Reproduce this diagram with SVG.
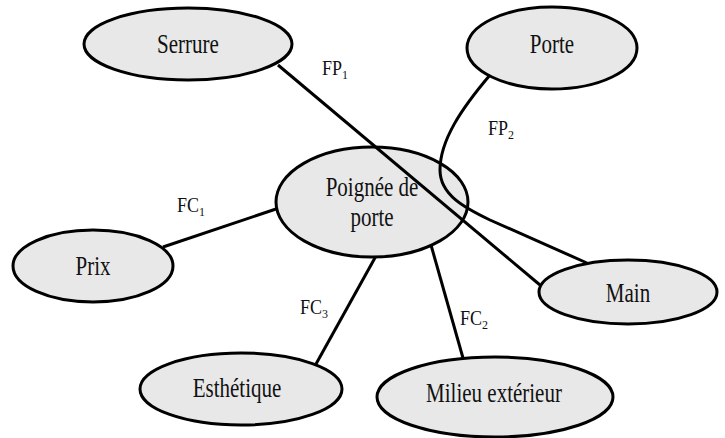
<svg xmlns="http://www.w3.org/2000/svg" width="725" height="438" viewBox="0 0 725 438">
  <style>
    .node ellipse { fill: #e8e8e8; stroke: #000; stroke-width: 3; }
    .node text { font-family: "Liberation Serif", "Times New Roman", serif; font-size: 21px; fill: #111; text-anchor: middle; }
    .edges path, .edges line { fill: none; stroke: #000; stroke-width: 3; }
    .lbl { font-family: "Liberation Serif", "Times New Roman", serif; font-size: 18px; fill: #111; }
    .sub { font-size: 12px; }
  </style>
  <rect width="725" height="438" fill="#fff"/>

  <!-- connectors (drawn first, nodes sit on top where they meet) -->
  <g id="edges" class="edges">
    <line x1="163" y1="247" x2="279" y2="208"/>
    <line x1="316" y1="364" x2="376" y2="256"/>
    <line x1="463" y1="358" x2="431" y2="245"/>
  </g>

  <g id="n-serrure" class="node">
    <ellipse cx="188" cy="44" rx="104" ry="36"/>
    <text transform="translate(188,53) scale(1,1.25)">Serrure</text>
  </g>
  <g id="n-porte" class="node">
    <ellipse cx="552" cy="48" rx="85" ry="41"/>
    <text transform="translate(552,53) scale(1,1.25)">Porte</text>
  </g>
  <g id="n-prix" class="node">
    <ellipse cx="93" cy="266" rx="80" ry="36"/>
    <text transform="translate(93,275) scale(1,1.25)">Prix</text>
  </g>
  <g id="n-esthetique" class="node">
    <ellipse cx="241" cy="389" rx="101" ry="36"/>
    <text transform="translate(237,397) scale(1,1.25)">Esthétique</text>
  </g>
  <g id="n-milieu" class="node">
    <ellipse cx="495" cy="397" rx="118" ry="40"/>
    <text transform="translate(494,402) scale(1,1.25)">Milieu extérieur</text>
  </g>
  <g id="n-main" class="node">
    <ellipse cx="628" cy="292" rx="89" ry="32"/>
    <text transform="translate(628,302) scale(1,1.25)">Main</text>
  </g>
  <g id="n-poignee" class="node">
    <ellipse cx="372" cy="202" rx="96" ry="55"/>
    <text transform="translate(372,196) scale(1,1.25)">Poignée de</text>
    <text transform="translate(372,226) scale(1,1.25)">porte</text>
  </g>

  <!-- connectors that cross over the handle node -->
  <g id="edges-over" class="edges">
    <line x1="278" y1="65" x2="540" y2="285"/>
    <path d="M490,75 C462,108 440,140 440,170 C440,195 465,208 490,220 L587,263"/>
  </g>

  <!-- function labels -->
  <g id="labels">
    <text class="lbl" transform="translate(322,75) scale(1,1.12)">FP<tspan class="sub" dy="4">1</tspan></text>
    <text class="lbl" transform="translate(488,135) scale(1,1.12)">FP<tspan class="sub" dy="4">2</tspan></text>
    <text class="lbl" transform="translate(177,212) scale(1,1.12)">FC<tspan class="sub" dy="4">1</tspan></text>
    <text class="lbl" transform="translate(300,314) scale(1,1.12)">FC<tspan class="sub" dy="4">3</tspan></text>
    <text class="lbl" transform="translate(460,325) scale(1,1.12)">FC<tspan class="sub" dy="4">2</tspan></text>
  </g>
</svg>
